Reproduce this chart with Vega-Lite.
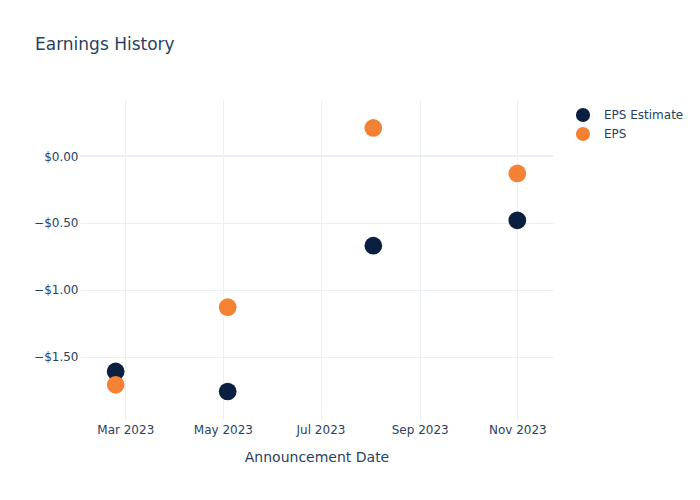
{
  "$schema": "https://vega.github.io/schema/vega-lite/v6.json",
  "width": 473,
  "height": 320,
  "autosize": {"type": "none"},
  "padding": {"left": 80, "top": 100, "right": 147, "bottom": 80},
  "background": "white",
  "config": {"view": {"stroke": null}, "font": "DejaVu Sans"},
  "title": {
    "text": "Earnings History",
    "anchor": "start",
    "frame": "group",
    "dx": -45,
    "offset": 33,
    "baseline": "alphabetic",
    "fontSize": 17,
    "fontWeight": "normal",
    "color": "#2a3f5f",
    "font": "DejaVu Sans"
  },
  "layer": [
    {
      "data": {"values": [{"v": 0}]},
      "mark": {"type": "rule", "color": "#EBF0F8", "strokeWidth": 2},
      "encoding": {
        "y": {"field": "v", "type": "quantitative"}
      }
    },
    {
      "data": {
        "values": [
          {"date": "2023-02-23", "series": "EPS Estimate", "value": -1.61},
          {"date": "2023-05-04", "series": "EPS Estimate", "value": -1.76},
          {"date": "2023-08-03", "series": "EPS Estimate", "value": -0.67},
          {"date": "2023-11-01", "series": "EPS Estimate", "value": -0.48},
          {"date": "2023-02-23", "series": "EPS", "value": -1.71},
          {"date": "2023-05-04", "series": "EPS", "value": -1.13},
          {"date": "2023-08-03", "series": "EPS", "value": 0.21},
          {"date": "2023-11-01", "series": "EPS", "value": -0.13}
        ]
      },
      "mark": {"type": "circle", "size": 314, "opacity": 1},
      "encoding": {
        "x": {
          "field": "date",
          "type": "temporal",
          "scale": {
            "type": "utc",
            "domain": [
              {"year": 2023, "month": 1, "date": 31, "hours": 17, "utc": true},
              {"year": 2023, "month": 11, "date": 23, "hours": 7, "utc": true}
            ]
          },
          "axis": {
            "values": [
              {"year": 2023, "month": 3, "date": 1, "utc": true},
              {"year": 2023, "month": 5, "date": 1, "utc": true},
              {"year": 2023, "month": 7, "date": 1, "utc": true},
              {"year": 2023, "month": 9, "date": 1, "utc": true},
              {"year": 2023, "month": 11, "date": 1, "utc": true}
            ],
            "format": "%b %Y",
            "title": "Announcement Date",
            "titleFontSize": 14,
            "titleFontWeight": "normal",
            "titleColor": "#2a3f5f",
            "titlePadding": 15,
            "labelColor": "#2a3f5f",
            "labelFontSize": 12,
            "labelPadding": 4,
            "ticks": false,
            "domain": false,
            "grid": true,
            "gridColor": "#EBF0F8",
            "gridWidth": 1
          }
        },
        "y": {
          "field": "value",
          "type": "quantitative",
          "scale": {"domain": [-1.973, 0.419], "nice": false, "zero": false},
          "axis": {
            "values": [-1.5, -1, -0.5, 0],
            "format": "$,.2f",
            "title": null,
            "labelColor": "#2a3f5f",
            "labelFontSize": 12,
            "labelPadding": 2,
            "ticks": false,
            "domain": false,
            "grid": true,
            "gridColor": "#EBF0F8",
            "gridWidth": 1
          }
        },
        "color": {
          "field": "series",
          "type": "nominal",
          "scale": {"domain": ["EPS Estimate", "EPS"], "range": ["#0b1f40", "#f58234"]},
          "legend": {
            "title": null,
            "orient": "none",
            "legendX": 495,
            "legendY": 7,
            "symbolType": "circle",
            "symbolSize": 200,
            "symbolOpacity": 1,
            "labelFontSize": 12,
            "labelColor": "#2a3f5f",
            "labelOffset": 13,
            "rowPadding": 3
          }
        }
      }
    }
  ]
}
